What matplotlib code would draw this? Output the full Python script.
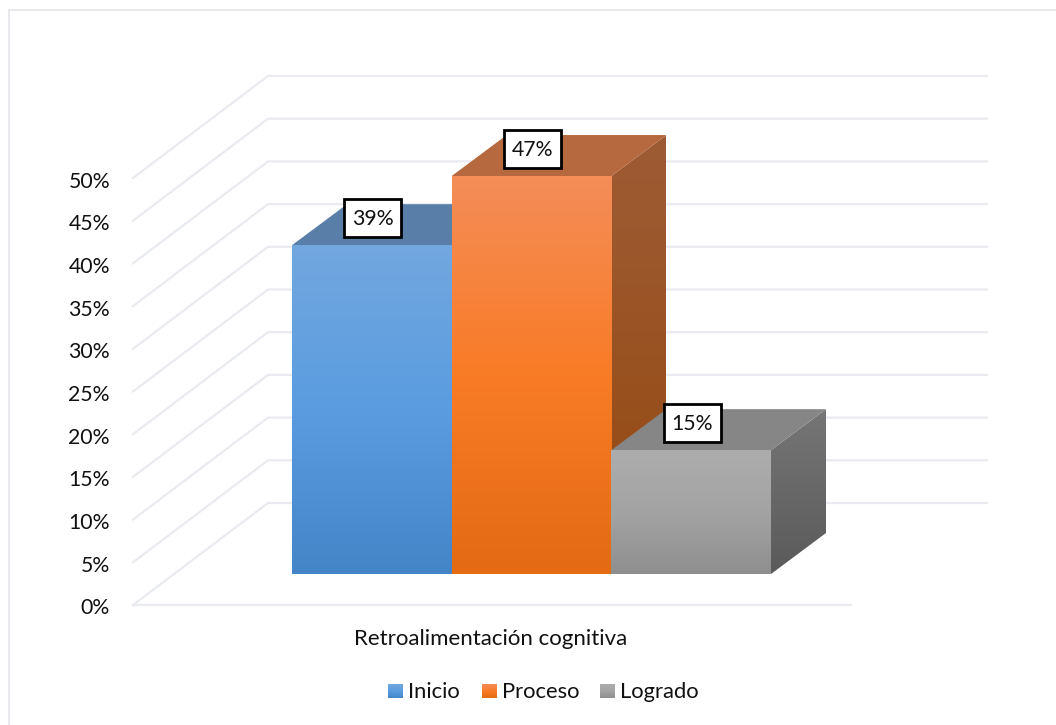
import numpy as np
import matplotlib
matplotlib.use('Agg')
import matplotlib.pyplot as plt
from matplotlib.colors import LinearSegmentedColormap
from matplotlib.patches import Polygon, Rectangle

plt.rcParams['font.family'] = ['Lato', 'DejaVu Sans']

series = ['Inicio', 'Proceso', 'Logrado']
values = [38.5, 46.6, 14.5]
labels = ['39%', '47%', '15%']
yticks = [0, 5, 10, 15, 20, 25, 30, 35, 40, 45, 50]
category = 'Retroalimentación cognitiva'

# front, side, top shading for each bar
front_cols = [['#72A7DF', '#5A9CDF', '#4485C8'],
              ['#F48D58', '#F97B26', '#E46A14'],
              ['#ADADAD', '#A3A3A3', '#8F8F8F']]
side_cols = [['#4A78A8', '#3A6896'],
             ['#9E5C35', '#94480F'],
             ['#767676', '#5A5A5A']]
top_cols = ['#597EA8', '#B6693F', '#868686']
grid_col = '#E9EBF0'
text_col = '#111111'

W, H = 1056, 725
# pixel layout: one bar unit = 159.67 px, one percent = 8.54 px
px_x = 159.67
px_y = 8.54
x0_px = 292
y0_px = 605

fig = plt.figure(figsize=(W/100, H/100), dpi=100)
ax = fig.add_axes([0, 0, 1, 1])
ax.axis('off')

def X(p):
    return (p-x0_px)/px_x

def Y(p):
    return (y0_px-p)/px_y

def set_limits():
    ax.set_xlim(X(0), X(W))
    ax.set_ylim(Y(H), Y(0))

def grad(cols, x1, x2, y1, y2, clip=None, z=3):
    cm = LinearSegmentedColormap.from_list('g', cols)
    arr = np.linspace(0, 1, 128).reshape(-1, 1)
    im = ax.imshow(arr, cmap=cm, extent=[x1, x2, y1, y2], aspect='auto',
                   zorder=z, vmin=0, vmax=1, interpolation='bilinear')
    if clip is not None:
        im.set_clip_path(clip)
    return im

# chart frame, only top and left are inside the crop
ax.plot([X(8.5), X(8.5), X(W)], [Y(H), Y(9.5), Y(9.5)], color='#E3E5EA', lw=1.2, zorder=1)

# walls and gridlines
wall_dx = 135/px_x
wall_dy = 102/px_y
x_left = X(133)
x_end = X(987)
for t in yticks:
    ax.plot([x_left, x_left+wall_dx, x_end], [t, t+wall_dy, t+wall_dy],
            color=grid_col, lw=1.6, zorder=1)
ax.plot([x_left, X(851)], [0, 0], color=grid_col, lw=1.6, zorder=1)

for t in yticks:
    ax.text(X(110), t-3.5/px_y, '%d%%' % t, ha='right', va='center', fontsize=15.3, color=text_col)

# bars, drawn back to front from the left
base = Y(574)
dx = 55/px_x
dy = 41/px_y
for i, v in enumerate(values):
    top = base+v
    # side
    pts = [(i+1, base), (i+1+dx, base+dy), (i+1+dx, top+dy), (i+1, top)]
    clip = Polygon(pts, transform=ax.transData, fc='none', ec='none')
    ax.add_patch(clip)
    grad(side_cols[i], i+1, i+1+dx, base, top+dy, clip=clip, z=2+i)
    # top
    ax.add_patch(Polygon([(i, top), (i+dx, top+dy), (i+1+dx, top+dy), (i+1, top)],
                         fc=top_cols[i], ec='none', zorder=2+i))
    # front
    grad(front_cols[i], i, i+1, base, top, z=2.5+i)

# value labels
box_w = 57/px_x
box_h = 38/px_y
for i, (v, lab) in enumerate(zip(values, labels)):
    cx = i+0.5+1/px_x
    cy = base+v+27/px_y
    ax.add_patch(Rectangle((cx-box_w/2, cy-box_h/2), box_w, box_h, fc='white',
                           ec='black', lw=2, zorder=10))
    ax.text(cx, cy-1/px_y, lab, ha='center', va='center', fontsize=15.3, color=text_col, zorder=11)

# category label
ax.text(X(491), Y(639), category, ha='center', va='center', fontsize=16, color=text_col)

# legend
square_x = [388, 482, 600]
text_x = [408, 502, 620]
for name, sx, tx, cols in zip(series, square_x, text_x, front_cols):
    grad(cols, X(sx), X(sx+15), Y(698), Y(684), z=5)
    ax.text(X(tx), Y(692), name, ha='left', va='center', fontsize=15.8, color=text_col)

set_limits()
fig.savefig('out.png', dpi=100)
